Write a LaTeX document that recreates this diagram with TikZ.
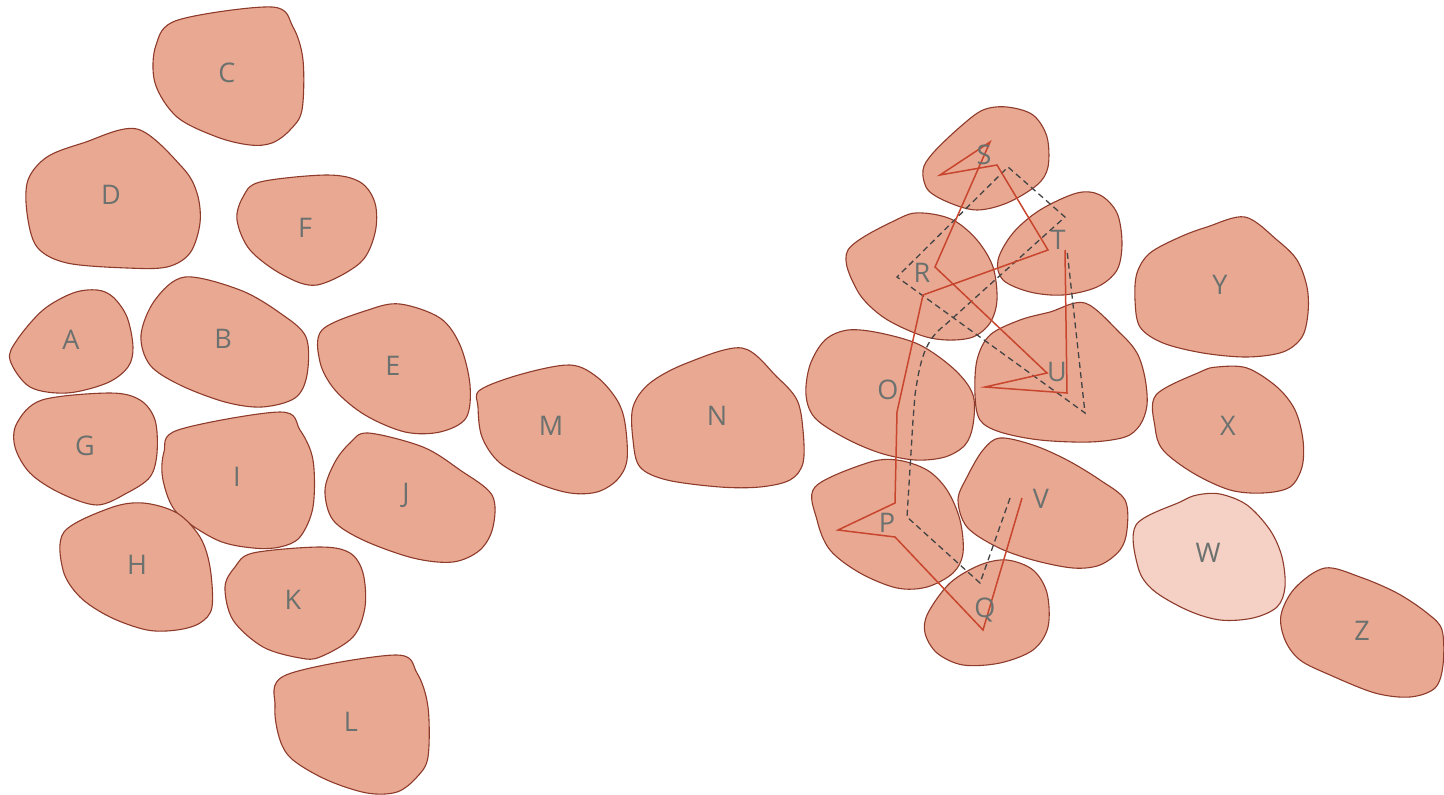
\documentclass[tikz,border=0pt]{standalone}
\usepackage{fontspec}
\setmainfont{Open Sans}
\definecolor{blobfill}{HTML}{E9A892}
\definecolor{blobline}{HTML}{8E3B2B}
\definecolor{wfill}{HTML}{F5D0C4}
\definecolor{redpath}{HTML}{C8452E}
\definecolor{lblcol}{HTML}{6B716E}
\definecolor{dashcol}{HTML}{444444}
\tikzset{
  blob/.style={fill=blobfill, draw=blobline, line width=1.1pt},
  lightblob/.style={fill=wfill, draw=blobline, line width=1.1pt},
  lbl/.style={text=lblcol, font=\fontsize{27}{30}\selectfont, inner sep=0pt},
  redline/.style={draw=redpath, line width=1.5pt, line join=miter},
  dashline/.style={draw=dashcol, line width=1.3pt, dash pattern=on 6pt off 4pt}
}
\begin{document}
\begin{tikzpicture}[x=1pt,y=-1pt]
\useasboundingbox (0,0) rectangle (1444,795);
% left cluster
\path[blob] plot[smooth cycle,tension=0.55] coordinates {(178,20) (272,7) (293,27) (303,60) (302,110) (290,130) (272,143) (250,145) (217,137) (177,117) (155,83) (156,45)};
\path[blob] plot[smooth cycle,tension=0.55] coordinates {(137,129) (182,167) (197,193) (200,223) (190,253) (167,267) (127,268) (67,263) (37,247) (27,213) (28,180) (47,157) (83,143)};
\path[blob] plot[smooth cycle,tension=0.55] coordinates {(260,182) (327,175) (360,182) (375,203) (375,233) (360,263) (317,285) (283,275) (250,250) (237,220) (243,197)};
\path[blob] plot[smooth cycle,tension=0.55] coordinates {(97,290) (113,297) (127,317) (133,347) (128,367) (107,383) (67,393) (30,387) (10,360) (17,340) (43,310) (73,293)};
\path[blob] plot[smooth cycle,tension=0.55] coordinates {(185,277) (240,290) (280,313) (306,337) (307,375) (295,398) (262,407) (225,402) (180,385) (150,365) (141,335) (155,300)};
\path[blob] plot[smooth cycle,tension=0.55] coordinates {(322,330) (368,310) (400,304) (440,318) (460,345) (470,385) (466,418) (440,432) (405,432) (365,415) (335,390) (320,362)};
\path[blob] plot[smooth cycle,tension=0.55] coordinates {(42,400) (110,393) (140,400) (155,420) (157,453) (150,477) (127,493) (97,505) (60,493) (30,473) (15,447) (17,423)};
\path[blob] plot[smooth cycle,tension=0.55] coordinates {(178,430) (280,412) (300,430) (313,460) (313,507) (300,537) (280,547) (253,548) (217,540) (177,513) (163,480) (164,452)};
\path[blob] plot[smooth cycle,tension=0.55] coordinates {(368,433) (423,447) (460,470) (492,495) (493,527) (480,550) (453,562) (413,558) (363,540) (333,520) (325,490) (335,462) (350,443)};
\path[blob] plot[smooth cycle,tension=0.55] coordinates {(110,508) (143,503) (177,513) (200,537) (210,567) (212,607) (200,623) (177,630) (147,630) (110,617) (80,597) (63,570) (64,532)};
\path[blob] plot[smooth cycle,tension=0.55] coordinates {(253,553) (320,547) (350,553) (363,573) (365,607) (353,637) (320,657) (300,658) (263,647) (233,620) (225,587) (235,567)};
\path[blob] plot[smooth cycle,tension=0.55] coordinates {(395,655) (417,673) (428,707) (428,757) (417,777) (397,792) (367,793) (327,780) (293,760) (280,740) (275,707) (286,675)};
% middle
\path[blob] plot[smooth cycle,tension=0.55] coordinates {(480,390) (522,374) (570,365) (597,377) (617,400) (625,423) (627,460) (617,480) (597,492) (570,493) (537,483) (500,463) (482,437) (478,407)};
\path[blob] plot[smooth cycle,tension=0.55] coordinates {(742,348) (777,377) (797,400) (803,430) (803,463) (790,480) (760,487) (720,487) (667,480) (640,467) (633,440) (633,407) (650,383) (687,363)};
% right cluster
\path[blob] plot[smooth cycle,tension=0.55] coordinates {(1007,107) (1033,115) (1047,137) (1048,167) (1037,185) (1007,203) (977,210) (950,203) (928,190) (923,170) (933,153) (960,127) (983,110)};
\path[blob] plot[smooth cycle,tension=0.55] coordinates {(900,218) (923,213) (953,220) (977,240) (993,267) (997,300) (990,323) (973,337) (947,340) (920,335) (883,317) (857,290) (848,250)};
\path[blob] plot[smooth cycle,tension=0.55] coordinates {(1013,233) (1040,210) (1077,193) (1100,195) (1117,213) (1122,243) (1117,270) (1097,287) (1063,295) (1030,292) (1003,280) (998,260)};
\path[blob] plot[smooth cycle,tension=0.55] coordinates {(1085,303) (1120,333) (1137,353) (1145,378) (1147,405) (1140,425) (1125,437) (1090,442) (1040,440) (1000,432) (980,420) (975,395) (977,360) (990,335) (1020,320) (1050,312)};
\path[blob] plot[smooth cycle,tension=0.55] coordinates {(848,330) (880,333) (920,345) (955,370) (973,395) (973,425) (965,445) (945,457) (915,460) (880,453) (845,438) (815,418) (806,395) (810,365) (825,340)};
\path[blob] plot[smooth cycle,tension=0.55] coordinates {(867,463) (897,460) (927,470) (947,490) (960,520) (963,553) (953,573) (927,587) (897,588) (860,573) (830,550) (817,520) (815,487)};
\path[blob] plot[smooth cycle,tension=0.55] coordinates {(1007,560) (1033,570) (1047,593) (1048,627) (1033,650) (1000,663) (963,665) (937,653) (925,633) (928,613) (950,583) (980,565)};
\path[blob] plot[smooth cycle,tension=0.55] coordinates {(1000,438) (1033,445) (1067,460) (1100,480) (1125,500) (1127,530) (1120,550) (1100,565) (1073,568) (1033,560) (997,547) (967,527) (958,500) (967,477) (983,450)};
\path[blob] plot[smooth cycle,tension=0.55] coordinates {(1245,217) (1277,240) (1297,260) (1307,287) (1308,313) (1302,337) (1283,352) (1247,357) (1203,353) (1163,343) (1140,327) (1135,300) (1137,273) (1150,253) (1180,237) (1207,227)};
\path[blob] plot[smooth cycle,tension=0.55] coordinates {(1200,372) (1217,367) (1247,368) (1277,387) (1295,410) (1303,440) (1302,467) (1290,487) (1263,493) (1230,490) (1193,473) (1163,450) (1155,427) (1156,395)};
\path[lightblob] plot[smooth cycle,tension=0.55] coordinates {(1180,502) (1197,495) (1220,494) (1247,505) (1270,530) (1282,557) (1285,587) (1277,607) (1253,618) (1220,620) (1187,610) (1153,590) (1138,567) (1136,525)};
\path[blob] plot[smooth cycle,tension=0.55] coordinates {(1325,568) (1360,577) (1397,593) (1427,613) (1442,630) (1443,665) (1435,688) (1410,697) (1375,693) (1330,675) (1300,660) (1285,640) (1281,615) (1295,588)};
% paths
\draw[dashline] (1010,498) -- (980,583) -- (907,517) -- (913,420) -- (915,395) .. controls (920,360) and (925,340) .. (945,325) -- (1065,217) -- (1008,167) -- (897,277) -- (1085,413) -- (1067,250);
\draw[redline] (1022,498) -- (983,630) -- (895,537) -- (838,530) -- (895,503) -- (897,412) -- (923,295) -- (1048,250) -- (997,165) -- (940,175) -- (990,142) -- (935,267) -- (1047,373) -- (985,387) -- (1067,393) -- (1065,250);
% labels
\node[lbl] (C) at (227,73) {C};
\node[lbl] (D) at (111,195) {D};
\node[lbl] (F) at (305,228) {F};
\node[lbl] (A) at (71,340) {A};
\node[lbl] (B) at (223,339) {B};
\node[lbl] (E) at (393,366) {E};
\node[lbl] (G) at (85,446) {G};
\node[lbl] (I) at (237,477) {I};
\node[lbl] (J) at (406,495) {J};
\node[lbl] (H) at (137,565) {H};
\node[lbl] (K) at (293,600) {K};
\node[lbl] (L) at (351,722) {L};
\node[lbl] (M) at (551,426) {M};
\node[lbl] (N) at (717,416) {N};
\node[lbl] (S) at (984,155) {S};
\node[lbl] (R) at (922,273) {R};
\node[lbl] (T) at (1058,240) {T};
\node[lbl] (Y) at (1220,285) {Y};
\node[lbl] (O) at (888,390) {O};
\node[lbl] (U) at (1057,372) {U};
\node[lbl] (X) at (1228,426) {X};
\node[lbl] (P) at (887,523) {P};
\node[lbl] (V) at (1041,499) {V};
\node[lbl] (W) at (1208,553) {W};
\node[lbl] (Q) at (985,610) {Q};
\node[lbl] (Z) at (1362,631) {Z};
\end{tikzpicture}
\end{document}
